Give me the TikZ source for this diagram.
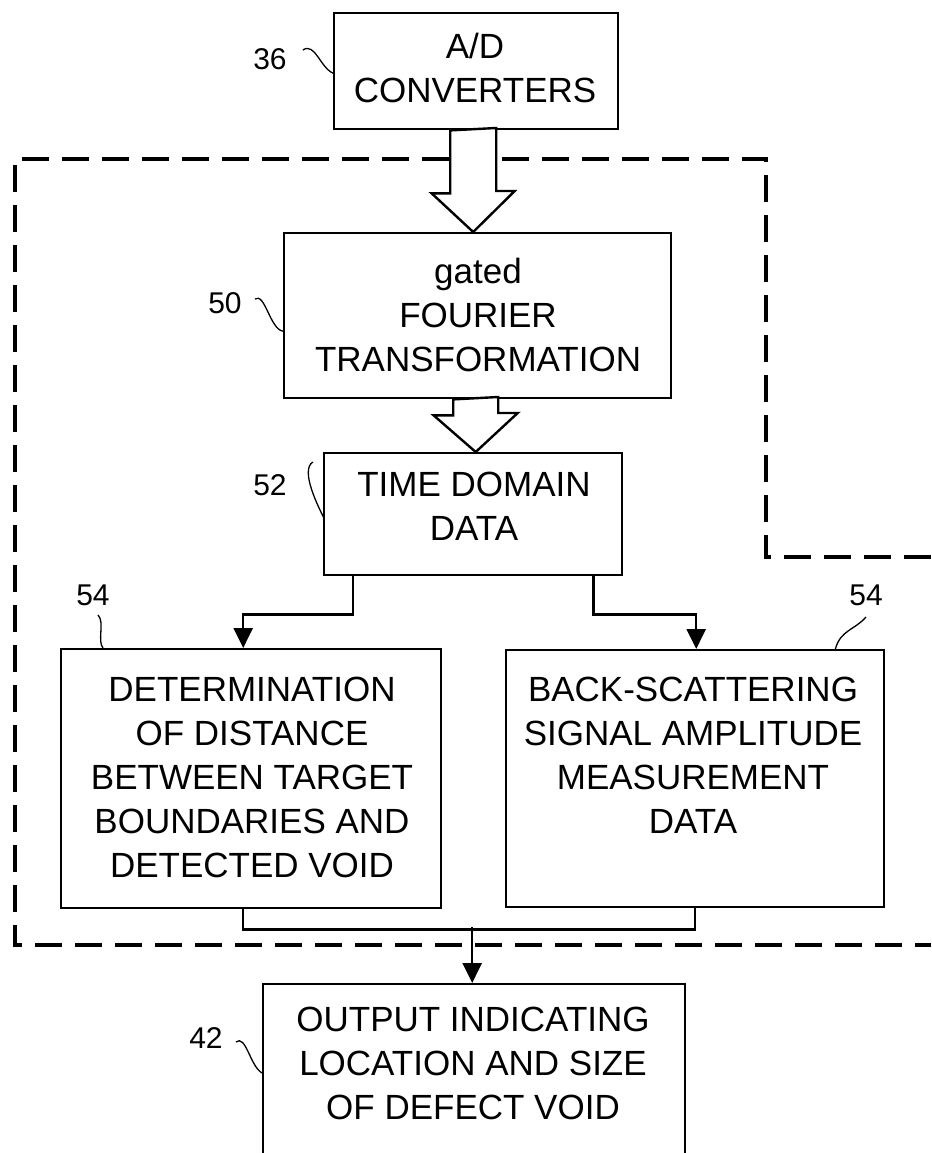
\documentclass[tikz,border=0pt]{standalone}
\usepackage{fontspec}
\setmainfont{Liberation Sans}
\usetikzlibrary{arrows.meta,calc}
\begin{document}
\begin{tikzpicture}[x=1pt,y=-1pt,
  box/.style={draw,line width=2.4pt,inner sep=0pt,anchor=north west},
  txt/.style={align=center,inner sep=0pt,font=\fontsize{35}{44}\selectfont},
  lbl/.style={inner sep=0pt,font=\fontsize{30}{30}\selectfont,text height=21.5pt,text depth=0pt},
  lead/.style={line width=1.3pt},
  conn/.style={line width=2.4pt},
  arrowtip/.style={-{Triangle[length=20pt,width=19pt]}},
  hollow/.style={draw,fill=white,line width=2.4pt,line join=miter},
  groupframe/.style={line width=3.2pt,dash pattern=on 27pt off 13pt}]
\useasboundingbox (0,0) rectangle (931,1153);
\fill[white] (0,0) rectangle (931,1153);
\clip (0,0) rectangle (931,1153);

% dashed group frame
\draw[groupframe] (931,557) -- (766,557) -- (766,159) -- (15,159) -- (15,945) -- (931,945);

% boxes
\node[box,minimum width=284pt,minimum height=116pt] (ad) at (333,12) {};
\node[box,minimum width=387pt,minimum height=165pt] (gft) at (283,232) {};
\node[box,minimum width=298pt,minimum height=122pt] (tdd) at (323,452) {};
\node[box,minimum width=380pt,minimum height=259pt] (lbox) at (60,648) {};
\node[box,minimum width=378pt,minimum height=257pt] (rbox) at (505,649) {};
\node[box,minimum width=422pt,minimum height=210pt] (out) at (262,983) {};

% box texts
\node[txt] (adt) at (475,67.5) {A/D\\CONVERTERS};
\node[txt] (gftt) at (478,314.75) {gated\\FOURIER\\TRANSFORMATION};
\node[txt] (tddt) at (474,506.5) {TIME DOMAIN\\DATA};
\node[txt] (lt) at (252,777) {DETERMINATION\\OF DISTANCE\\BETWEEN TARGET\\BOUNDARIES AND\\DETECTED VOID};
\node[txt] (rt) at (693,755.5) {BACK-SCATTERING\\SIGNAL AMPLITUDE\\MEASUREMENT\\DATA};
\node[txt] (ot) at (473,1063) {OUTPUT INDICATING\\LOCATION AND SIZE\\OF DEFECT VOID};

% hollow arrows
\coordinate (h1) at ($(gft.north)+(-4.5,0)$);
\draw[hollow] ($(h1 |- ad.south)+(-23,0)$) -- ++(0,63) -- ++(-18.5,0) -- (h1) -- ++(41.5,-41) -- ++(-18.5,0) -- ++(0,-63) -- cycle;
\coordinate (h2) at ($(tdd.north)+(2.5,0)$);
\draw[hollow] ($(h2 |- gft.south)+(-22.5,0)$) -- ++(0,16) -- ++(-19.5,0) -- (h2) -- ++(42,-39) -- ++(-19.5,0) -- ++(0,-16) -- cycle;

% connectors
\draw[conn,arrowtip] ($(tdd.south west)+(30,0)$) -- ++(0,38) -| ($(lbox.north)+(-8,0)$);
\draw[conn,arrowtip] ($(tdd.south east)+(-30,0)$) -- ++(0,38) -| ($(rbox.north)+(1,0)$);
\draw[conn] ($(lbox.south)+(-8,0)$) -- ++(0,20) -| (rbox.south);
\path (out.north) ++(-2,-56) coordinate (j);
\draw[conn,arrowtip] (j) -- ($(out.north)+(-2,0)$);

% reference labels
\node[lbl] (l36) at (270,59) {36};
\node[lbl] (l50) at (225,303) {50};
\node[lbl] (l52) at (270,485) {52};
\node[lbl] (l54a) at (93,595) {54};
\node[lbl] (l54b) at (866,595) {54};
\node[lbl] (l42) at (206,1038) {42};

% leader lines
\draw[lead] ($(l36.east)+(16,-9)$) .. controls ($(l36.east)+(28,-17)$) and ($(ad.west)+(-13,-4)$) .. ($(ad.west)+(0,2)$);
\draw[lead] ($(l50.east)+(13,-4)$) .. controls ($(l50.east)+(23,-11)$) and ($(gft.west)+(-13,13.5)$) .. ($(gft.west)+(0,15.5)$);
\draw[lead] ($(l52.east)+(26,-23)$) .. controls ($(l52.east)+(13,-15)$) and ($(tdd.west)+(-5,-8)$) .. ($(tdd.west)+(1,4)$);
\draw[lead] ($(l54a.south)+(5,9)$) .. controls ($(l54a.south)+(12,16)$) and ($(lbox.north west)+(37,-7)$) .. ($(lbox.north west)+(43,0)$);
\draw[lead] ($(l54b.south)+(0,11)$) .. controls ($(l54b.south)+(-11,24)$) and ($(rbox.north east)+(-45,-19)$) .. ($(rbox.north east)+(-50,0)$);
\draw[lead] ($(l42.east)+(13,4)$) .. controls ($(l42.east)+(23,-4)$) and ($(out.north west)+(-12,83)$) .. ($(out.north west)+(0,90)$);
\end{tikzpicture}
\end{document}
